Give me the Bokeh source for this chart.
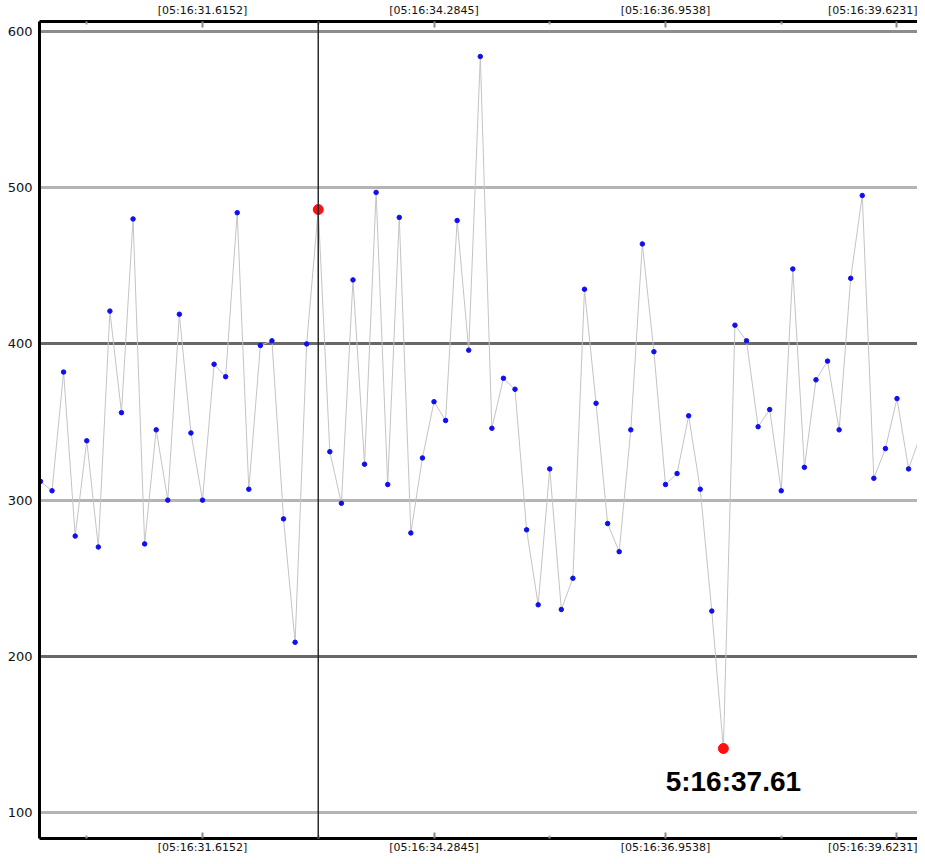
from bokeh.plotting import figure
from bokeh.models import (Range1d, FixedTicker, LinearAxis, Span, Grid,
                          ColumnDataSource)
from bokeh.core.properties import value
from bokeh.embed import file_html
from bokeh.resources import INLINE

# ---- data (seconds after 05:16:00) ----
seconds = [29.7467, 29.8802, 30.0136, 30.1471, 30.2806, 30.4140, 30.5475, 30.6810,
           30.8144, 30.9479, 31.0814, 31.2148, 31.3483, 31.4817, 31.6152, 31.7487,
           31.8821, 32.0156, 32.1491, 32.2825, 32.4160, 32.5495, 32.6829, 32.8164,
           32.9499, 33.0833, 33.2168, 33.3502, 33.4837, 33.6172, 33.7506, 33.8841,
           34.0176, 34.1510, 34.2845, 34.4180, 34.5514, 34.6849, 34.8184, 34.9518,
           35.0853, 35.2187, 35.3522, 35.4857, 35.6191, 35.7526, 35.8861, 36.0195,
           36.1530, 36.2865, 36.4199, 36.5534, 36.6869, 36.8203, 36.9538, 37.0873,
           37.2207, 37.3542, 37.4876, 37.6211, 37.7546, 37.8880, 38.0215, 38.1550,
           38.2884, 38.4219, 38.5554, 38.6888, 38.8223, 38.9558, 39.0892, 39.2227,
           39.3561, 39.4896, 39.6231, 39.7566, 39.8900, 40.0235]

values = [312, 306, 382, 277, 338, 270, 421, 356, 480, 272,
          345, 300, 419, 343, 300, 387, 379, 484, 307, 399,
          402, 288, 209, 400, 486, 331, 298, 441, 323, 497,
          310, 481, 279, 327, 363, 351, 479, 396, 584, 346,
          378, 371, 281, 233, 320, 230, 250, 435, 362, 285,
          267, 345, 464, 395, 310, 317, 354, 307, 229, 141,
          412, 402, 347, 358, 306, 448, 321, 377, 389, 345,
          442, 495, 314, 333, 365, 320, 341, 260]

highlight_idx = [24, 59]          # red markers
cursor_idx = 24                   # vertical cursor line
label_idx = 59
label_text = "5:16:37.61"

x_tick_positions = [31.6152, 34.2845, 36.9538, 39.6231]
x_tick_labels = ["[05:16:31.6152]", "[05:16:34.2845]", "[05:16:36.9538]", "[05:16:39.6231]"]
x_minor_ticks = [30.2806, 32.9499, 35.6191, 38.2884]
y_ticks = [100, 200, 300, 400, 500, 600]
y_dark = [200, 400]
y_mid = [600]
y_light = [100, 300, 500]

x_start, x_end = 29.7357, 39.8595
y_start, y_end = 83.4, 606.4

# ---- figure ----
p = figure(width=917, height=856, output_backend="svg", toolbar_location=None,
           x_range=Range1d(x_start, x_end), y_range=Range1d(y_start, y_end),
           min_border_left=39, min_border_right=0, min_border_top=0, min_border_bottom=0,
           background_fill_color="white", border_fill_color="white")
p.outline_line_color = None
p.xgrid.visible = False
p.ygrid.visible = False

font = "DejaVu Sans"
xt = FixedTicker(ticks=x_tick_positions, minor_ticks=x_minor_ticks)
overrides = dict(zip(x_tick_positions, x_tick_labels))

def style_x(ax, standoff):
    ax.ticker = xt
    ax.major_label_overrides = overrides
    ax.axis_line_color = "black"
    ax.axis_line_width = 3
    ax.major_tick_in = 6
    ax.major_tick_out = 0
    ax.major_tick_line_color = "#8a8a8a"
    ax.major_tick_line_width = 2
    ax.minor_tick_in = 3
    ax.minor_tick_out = 0
    ax.minor_tick_line_color = "#9a9a9a"
    ax.minor_tick_line_width = 2
    ax.major_label_text_font = font
    ax.major_label_text_font_size = "11px"
    ax.major_label_text_color = "#111111"
    ax.major_label_standoff = standoff

style_x(p.xaxis[0], 2)
top_axis = LinearAxis()
style_x(top_axis, 5)
p.add_layout(top_axis, "above")

ya = p.yaxis[0]
ya.ticker = FixedTicker(ticks=y_ticks)
ya.axis_line_color = "black"
ya.axis_line_width = 3
ya.major_tick_in = 0
ya.major_tick_out = 0
ya.minor_tick_line_color = None
ya.major_label_text_font = font
ya.major_label_text_font_size = "13px"
ya.major_label_text_color = "#111111"
ya.major_label_standoff = 7

for ticks, col in ((y_light, "#b4b4b4"), (y_mid, "#8c8c8c"), (y_dark, "#686868")):
    g = Grid(dimension=1, ticker=FixedTicker(ticks=ticks),
             grid_line_color=col, grid_line_width=3)
    p.add_layout(g)

# cursor line
p.add_layout(Span(location=seconds[cursor_idx], dimension="height",
                  line_color="#2a2a2a", line_width=1.5))

src = ColumnDataSource(dict(t=seconds, v=values))
p.line("t", "v", source=src, line_color="#c4c4c4", line_width=1)
p.scatter("t", "v", source=src, size=4.5, fill_color="#1010ee", line_color="#1010ee")

hsrc = ColumnDataSource(dict(t=[seconds[i] for i in highlight_idx],
                             v=[values[i] for i in highlight_idx]))
p.scatter("t", "v", source=hsrc, size=10, fill_color="#ff1010", line_color="#ff1010")

p.text(x=[seconds[label_idx]], y=[values[label_idx]], text=[label_text],
       x_offset=10, y_offset=33, text_align="center", text_baseline="middle",
       text_font=value("Liberation Sans"), text_font_style="bold",
       text_font_size="28px", text_color="black")

open("out.html", "w").write(file_html(p, INLINE))
